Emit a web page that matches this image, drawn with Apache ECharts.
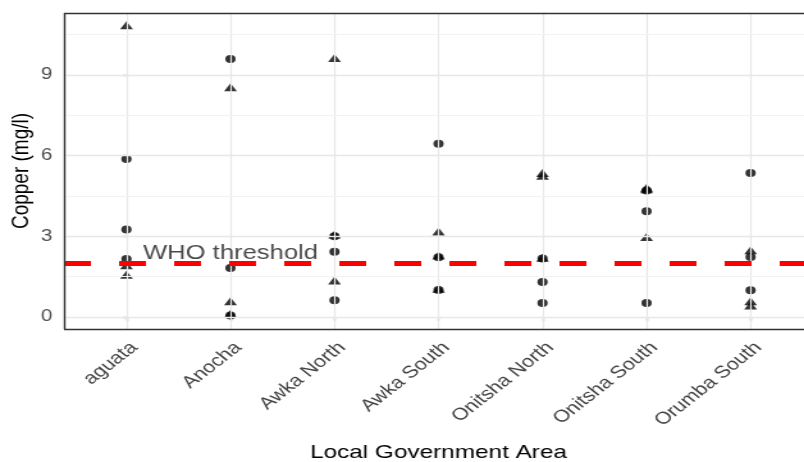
<!DOCTYPE html>
<html>
<head>
<meta charset="utf-8">
<script src="https://cdn.jsdelivr.net/npm/echarts@6/dist/echarts.min.js"></script>
<style>
html,body{margin:0;padding:0;background:#fff;overflow:hidden;}
#wrap{width:804px;height:462px;overflow:hidden;position:relative;}
#c{width:640px;height:462px;transform:scaleX(1.2803);transform-origin:0 0;}
</style>
</head>
<body>
<div id="wrap"><div id="c"></div></div>
<script>
// ---- data ----
var categories = ["aguata", "Anocha", "Awka North", "Awka South", "Onitsha North", "Onitsha South", "Orumba South"];
var circleValues = [
  [5.87, 3.25, 2.15],
  [9.59, 1.82, 0.05],
  [3.0, 2.42, 0.62],
  [6.44, 2.22, 1.0],
  [2.17, 1.3, 0.52],
  [4.7, 3.93, 0.52],
  [5.35, 2.23, 0.99]
];
var triangleValues = [
  [10.84, 1.92, 1.57],
  [8.54, 0.58, 0.12],
  [9.63, 3.06, 1.35],
  [3.18, 2.28, 1.05],
  [5.35, 5.25, 2.2],
  [4.8, 4.75, 2.97],
  [2.48, 0.58, 0.42]
];
var yTicks = [0, 3, 6, 9];
var yMinorGrid = [1.5, 4.5, 7.5, 10.5];
var whoThreshold = 2;
var whoLabel = "WHO threshold";
var whoLabelPos = [1, 2.35];
var yTitle = "Copper (mg/l)";
var xTitle = "Local Government Area";

// ---- build ----
var xMin = -0.6, xMax = categories.length - 0.4, yMin = -0.45, yMax = 11.3;
function toPairs(arr) {
  var out = [];
  arr.forEach(function (vals, i) { vals.forEach(function (v) { out.push([i, v]); }); });
  return out;
}
var catIdx = categories.map(function (_, i) { return i; });
var font = "Liberation Sans, Arial, sans-serif";
var gridLineData = [];
catIdx.forEach(function (i) { gridLineData.push({ xAxis: i, lineStyle: { color: '#e8e8e8', width: 1.2 } }); });
yTicks.forEach(function (v) { gridLineData.push({ yAxis: v, lineStyle: { color: '#e8e8e8', width: 1.4 } }); });
yMinorGrid.forEach(function (v) { gridLineData.push({ yAxis: v, lineStyle: { color: '#f2f2f2', width: 1 } }); });
var borderStyle = { color: '#333', width: 1.4 };
var borderData = [
  { yAxis: yMax, lineStyle: borderStyle },
  { yAxis: yMin, lineStyle: borderStyle },
  { xAxis: xMin, lineStyle: borderStyle }
];

var chart = echarts.init(document.getElementById('c'));
chart.setOption({
  animation: false,
  backgroundColor: '#fff',
  grid: { left: 50, right: 5, top: 13, bottom: 133, outerBoundsMode: 'none', containLabel: false, show: false },
  xAxis: {
    type: 'value', min: xMin, max: xMax,
    name: xTitle, nameLocation: 'middle', nameGap: 114,
    nameTextStyle: { fontFamily: font, fontSize: 19, color: '#000' },
    axisLine: { show: false },
    splitLine: { show: false },
    axisTick: { show: true, customValues: catIdx, length: 4, lineStyle: { color: '#333', width: 1.2 } },
    axisLabel: {
      customValues: catIdx, rotate: 45, margin: 10, verticalAlign: 'top', align: 'right',
      fontFamily: font, fontSize: 17, color: '#444',
      formatter: function (v) { return categories[Math.round(v)]; }
    }
  },
  yAxis: {
    type: 'value', min: yMin, max: yMax,
    name: yTitle, nameLocation: 'middle', nameGap: 24, nameRotate: 90, nameMoveOverlap: false,
    nameTextStyle: { fontFamily: font, fontSize: 19, color: '#000' },
    axisLine: { show: false },
    splitLine: { show: false },
    axisTick: { show: true, customValues: yTicks, length: 3, lineStyle: { color: '#333', width: 1.2 } },
    axisLabel: { customValues: yTicks, margin: 9, fontFamily: font, fontSize: 16, color: '#4d4d4d' }
  },
  series: [
    {
      type: 'scatter', data: [], z: 0, silent: true,
      markLine: { silent: true, symbol: ['none', 'none'], label: { show: false }, data: gridLineData, animation: false, lineStyle: { type: 'solid' } }
    },
    {
      type: 'scatter', data: [], z: 3, silent: true,
      markLine: {
        silent: true, symbol: ['none', 'none'], label: { show: false }, animation: false,
        data: [{ yAxis: whoThreshold }],
        lineStyle: { color: '#ff0000', width: 5, type: [21, 22], cap: 'butt' }
      }
    },
    {
      type: 'scatter', data: [], z: 6, silent: true,
      markLine: { silent: true, symbol: ['none', 'none'], label: { show: false }, data: borderData, animation: false, lineStyle: { type: 'solid' } }
    },
    {
      type: 'scatter', name: 'circle', symbol: 'circle', symbolSize: 8, z: 4,
      itemStyle: { color: '#000' }, data: toPairs(circleValues)
    },
    {
      type: 'scatter', name: 'triangle', symbol: 'triangle', symbolSize: [10, 8], z: 4,
      itemStyle: { color: '#000' }, data: toPairs(triangleValues)
    },
    {
      type: 'scatter', symbolSize: 0, z: 5, silent: true,
      data: [whoLabelPos],
      label: { show: true, position: 'inside', formatter: whoLabel, fontFamily: font, fontSize: 20, color: '#1a1a1a' }
    }
  ]
});
</script>
</body>
</html>
